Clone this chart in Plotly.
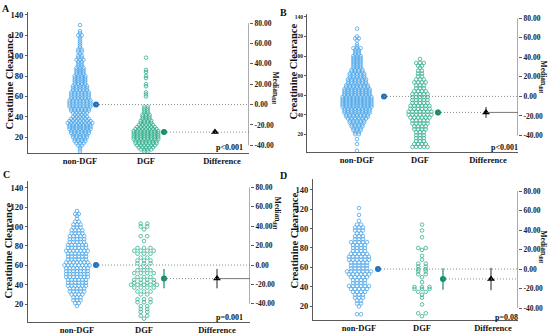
import plotly.graph_objects as go

# ---------------- DATA ----------------
categories = ["non-DGF", "DGF", "Difference"]
panel_letters = ["A", "B", "C", "D"]
p_values = ["p<0.001", "p<0.001", "p=0.001", "p=0.08"]
left_ticks = [20, 40, 60, 80, 100, 120, 140]
right_ticks = [-40, -20, 0, 20, 40, 60, 80]
right_ticktext = [f"{v:.2f}" for v in right_ticks]

# value bins (creatinine clearance) and number of subjects in each bin
A_non_vals = [6, 8, 10, 12, 14, 16, 18, 20, 22, 24,
              26, 28, 30, 32, 34, 36, 38, 40, 42, 44,
              46, 48, 50, 52, 54, 56, 58, 60, 62, 64,
              66, 68, 70, 72, 74, 76, 78, 80, 82, 84,
              86, 88, 90, 92, 94, 96, 98, 100, 102, 104,
              106, 108, 110, 112, 114, 116, 118, 120, 122, 124,
              130]
A_non_counts = [1, 1, 1, 2, 3, 4, 4, 5, 5, 6,
                6, 7, 7, 7, 8, 7, 6, 5, 4, 5,
                6, 6, 7, 7, 7, 7, 6, 6, 6, 6,
                5, 5, 5, 4, 4, 4, 4, 4, 3, 3,
                3, 3, 2, 2, 2, 3, 2, 2, 1, 2,
                2, 1, 1, 1, 1, 1, 1, 2, 1, 1,
                1]
A_dgf_vals = [6, 8, 10, 12, 14, 16, 18, 20, 22, 24,
              26, 28, 30, 32, 34, 36, 38, 40, 42, 44,
              46, 48, 50, 60, 62, 64, 70, 72, 78, 80,
              84, 86, 98]
A_dgf_counts = [2, 4, 5, 6, 7, 7, 8, 8, 8, 8,
                8, 7, 6, 5, 4, 4, 3, 3, 3, 2,
                2, 2, 2, 1, 1, 1, 1, 1, 1, 1,
                1, 1, 1]

B_non_vals = [3, 10, 15, 20, 22, 24, 26, 28, 30, 32,
              34, 36, 38, 40, 42, 44, 46, 48, 50, 52,
              54, 56, 58, 60, 62, 64, 66, 68, 70, 72,
              74, 76, 78, 80, 82, 84, 86, 88, 90, 92,
              94, 96, 98, 100, 102, 104, 106, 108, 110, 112,
              116, 118, 120, 128]
B_non_counts = [1, 1, 1, 2, 2, 3, 3, 4, 4, 5,
                5, 6, 7, 7, 8, 8, 8, 9, 9, 9,
                9, 9, 9, 8, 8, 8, 8, 7, 7, 6,
                6, 6, 5, 5, 5, 4, 4, 3, 3, 3,
                3, 3, 3, 3, 2, 2, 2, 3, 1, 1,
                1, 2, 1, 1]
B_dgf_vals = [7, 10, 13, 16, 19, 22, 25, 28, 31, 34,
              37, 40, 43, 46, 49, 52, 55, 58, 61, 64,
              67, 70, 73, 76, 79, 82, 85, 88, 90, 93,
              97]
B_dgf_counts = [5, 4, 3, 3, 3, 3, 4, 4, 5, 5,
                6, 7, 7, 6, 6, 5, 5, 5, 5, 4,
                3, 3, 4, 3, 2, 2, 2, 1, 2, 3,
                1]

C_non_vals = [0, 18, 21, 24, 27, 30, 33, 36, 39, 42,
              45, 48, 51, 54, 57, 60, 63, 66, 69, 72,
              75, 78, 81, 84, 87, 90, 93, 96, 99, 102,
              105, 108, 111, 113, 116]
C_non_counts = [1, 1, 2, 3, 3, 4, 5, 5, 6, 6,
                6, 7, 7, 7, 7, 8, 7, 6, 6, 6,
                7, 6, 6, 5, 5, 5, 4, 4, 3, 3,
                2, 1, 1, 2, 1]
C_dgf_vals = [0, 5, 8, 12, 15, 18, 22, 25, 30, 33,
              37, 40, 42, 45, 48, 52, 55, 58, 62, 65,
              68, 72, 75, 78, 85, 90, 97, 100, 103]
C_dgf_counts = [1, 1, 2, 2, 2, 2, 3, 3, 2, 3,
                4, 5, 4, 4, 3, 4, 3, 2, 3, 3,
                2, 3, 4, 3, 1, 2, 1, 2, 2]

D_non_vals = [5, 12, 20, 23, 26, 29, 32, 35, 38, 41,
              44, 47, 50, 53, 56, 59, 62, 65, 68, 71,
              74, 77, 80, 83, 86, 89, 92, 95, 98, 101,
              104, 108, 114, 121]
D_non_counts = [1, 2, 1, 2, 2, 3, 3, 4, 5, 6,
                4, 4, 5, 6, 7, 5, 5, 5, 6, 6,
                5, 4, 4, 4, 5, 3, 3, 2, 3, 3,
                2, 1, 1, 1]
D_dgf_vals = [5, 10, 13, 22, 29, 32, 35, 38, 40, 45,
              50, 53, 56, 58, 61, 64, 68, 72, 78, 80,
              91, 98, 104]
D_dgf_counts = [1, 1, 2, 1, 1, 1, 2, 3, 3, 1,
                1, 2, 2, 2, 2, 2, 1, 1, 1, 2,
                1, 1, 1]

# medians, their CI half-widths, median differences and CI half-widths
median_non = [52.0, 58.7, 60.3, 58.4]
median_non_ci = [0.8, 2.0, 1.5, 2.0]
median_dgf = [25.0, 42.3, 46.3, 48.2]
median_dgf_ci = [0.8, 3.0, 9.8, 11.0]
median_diff = [-27.0, -16.4, -14.0, -10.2]
median_diff_ci = [1.5, 5.5, 10.0, 11.5]

# ---------------- STYLE / GEOMETRY ----------------
W, H = 550, 335
FONT = "Liberation Serif"
C_NON = "#4ea7ea"
C_DGF = "#33b08f"
C_NON_MED = "#1a74c9"
C_DGF_MED = "#12906d"
AX = "#5a5a5a"
DOT = dict(color="#8a8a8a", width=1, dash="1px,2px")

geom = [
    dict(left=28, right=249, bottom=152, top=10, yr=(4.4, 142.9),
         cats=(52, 118, 194), off=(16, 18, -7), sp=(3.5, 3.5),
         letter=(6, 7), ytitle=(10, 80), rtitle=(275, 86), pv=(245, 146),
         ytf=8.5, solid=False),
    dict(left=307, right=518, bottom=151, top=11.7, yr=(1.7, 143.4),
         cats=(50, 113, 181), off=(27, 18, -2), sp=(3.6, 3.8),
         letter=(283, 11), ytitle=(294, 70), rtitle=(543, 75), pv=(520, 146),
         ytf=5.5, solid=True),
    dict(left=28, right=250, bottom=322, top=180, yr=(1.5, 147.0),
         cats=(49, 116, 189), off=(19, 20, 0), sp=(3.6, 6.5),
         letter=(6, 174), ytitle=(9, 250), rtitle=(277, 212), pv=(245, 317),
         ytf=8.5, solid=True),
    dict(left=313, right=518, bottom=319.7, top=178, yr=(6.3, 150.9),
         cats=(46, 109, 180), off=(19, 21, -2), sp=(4.0, 7.5),
         letter=(283, 175), ytitle=(295, 240), rtitle=(543, 246), pv=(520, 317),
         ytf=8.5, solid=False),
]

swarms = [
    (A_non_vals, A_non_counts, A_dgf_vals, A_dgf_counts),
    (B_non_vals, B_non_counts, B_dgf_vals, B_dgf_counts),
    (C_non_vals, C_non_counts, C_dgf_vals, C_dgf_counts),
    (D_non_vals, D_non_counts, D_dgf_vals, D_dgf_counts),
]


def swarm(vals, counts, center, spacing):
    xs, ys = [], []
    for v, n in zip(vals, counts):
        for i in range(n):
            xs.append(center + (i - (n - 1) / 2) * spacing)
            ys.append(v)
    return xs, ys


fig = go.Figure()
layout = dict(width=W, height=H, margin=dict(l=0, r=0, t=0, b=0),
              paper_bgcolor="white", plot_bgcolor="white", showlegend=False,
              font=dict(family=FONT, color="#111"))
shapes, annotations = [], []

for k, g in enumerate(geom):
    i = k + 1
    xa = "x" if i == 1 else f"x{i}"
    ya = "y" if i == 1 else f"y{i}"
    yr = f"y{i + 4}"
    aw = g["right"] - g["left"]
    med = median_non[k]

    layout[f"xaxis{i}"] = dict(
        domain=[g["left"] / W, g["right"] / W], range=[0, aw], anchor=ya,
        showline=True, linecolor=AX, linewidth=1, showgrid=False, zeroline=False,
        tickvals=list(g["cats"]), ticktext=categories, ticks="",
        tickfont=dict(family=FONT, size=8.5, weight="bold", color="#111"))
    layout[f"yaxis{i}"] = dict(
        domain=[1 - g["bottom"] / H, 1 - g["top"] / H], range=list(g["yr"]),
        anchor=xa, showline=True, linecolor=AX, linewidth=1, showgrid=False,
        zeroline=False, ticks="outside", ticklen=2, tickcolor=AX,
        tickvals=left_ticks,
        tickfont=dict(family=FONT, size=g["ytf"], weight="bold", color="#222"))
    layout[f"yaxis{i + 4}"] = dict(
        overlaying=ya, side="right", anchor=xa,
        range=[g["yr"][0] - med, g["yr"][1] - med], showline=False,
        showgrid=False, zeroline=False, ticks="outside", ticklen=3,
        tickcolor=AX, tickvals=right_ticks, ticktext=right_ticktext,
        tickfont=dict(family=FONT, size=7.5, weight="bold", color="#222"))

    nv, nc, dv, dc = swarms[k]
    x1, y1 = swarm(nv, nc, g["cats"][0], g["sp"][0])
    x2, y2 = swarm(dv, dc, g["cats"][1], g["sp"][1])
    for xs, ys, col in ((x1, y1, C_NON), (x2, y2, C_DGF)):
        fig.add_trace(go.Scatter(
            x=xs, y=ys, xaxis=xa, yaxis=ya, mode="markers", cliponaxis=False,
            marker=dict(symbol="circle-open", size=3.6, color=col,
                        line=dict(width=0.8, color=col)),
            hoverinfo="skip"))

    xb = g["cats"][0] + g["off"][0]
    xg = g["cats"][1] + g["off"][1]
    xt = g["cats"][2] + g["off"][2]

    # reference lines
    shapes.append(dict(type="line", xref=xa, yref=ya, x0=xb, x1=aw,
                       y0=med, y1=med, line=DOT))
    if g["solid"]:
        shapes.append(dict(type="line", xref=xa, yref=ya, x0=xg, x1=xt,
                           y0=median_dgf[k], y1=median_dgf[k], line=DOT))
        shapes.append(dict(type="line", xref=xa, yref=ya, x0=xt, x1=aw,
                           y0=median_dgf[k], y1=median_dgf[k],
                           line=dict(color="#555", width=0.8)))
    else:
        shapes.append(dict(type="line", xref=xa, yref=ya, x0=xg, x1=aw,
                           y0=median_dgf[k], y1=median_dgf[k], line=DOT))
    # right axis line (only across tick span)
    shapes.append(dict(type="line", xref=xa, yref=yr, x0=aw, x1=aw,
                       y0=right_ticks[0], y1=right_ticks[-1],
                       line=dict(color=AX, width=1)))

    fig.add_trace(go.Scatter(
        x=[xb], y=[med], xaxis=xa, yaxis=ya, mode="markers",
        marker=dict(size=6, color=C_NON_MED),
        error_y=dict(type="data", array=[median_non_ci[k]], color=C_NON_MED,
                     thickness=1.2, width=0)))
    fig.add_trace(go.Scatter(
        x=[xg], y=[median_dgf[k]], xaxis=xa, yaxis=ya, mode="markers",
        marker=dict(size=6, color=C_DGF_MED),
        error_y=dict(type="data", array=[median_dgf_ci[k]], color=C_DGF_MED,
                     thickness=1.2, width=0)))
    fig.add_trace(go.Scatter(
        x=[xt], y=[median_diff[k]], xaxis=xa, yaxis=yr, mode="markers",
        marker=dict(symbol="triangle-up", size=7, color="black"),
        error_y=dict(type="data", array=[median_diff_ci[k]], color="#222",
                     thickness=1, width=0)))

    # texts
    annotations.append(dict(text=panel_letters[k], x=g["letter"][0] / W,
                            y=1 - g["letter"][1] / H, xref="paper", yref="paper",
                            showarrow=False, xanchor="center", yanchor="middle",
                            font=dict(family=FONT, size=10, weight="bold", color="#111")))
    annotations.append(dict(text="Creatinine Clearance", textangle=-90,
                            x=g["ytitle"][0] / W, y=1 - g["ytitle"][1] / H,
                            xref="paper", yref="paper", showarrow=False,
                            xanchor="center", yanchor="middle",
                            font=dict(family=FONT, size=10.5, weight="bold", color="#111")))
    annotations.append(dict(text="Median<sub>diff</sub>", textangle=90,
                            x=g["rtitle"][0] / W, y=1 - g["rtitle"][1] / H,
                            xref="paper", yref="paper", showarrow=False,
                            xanchor="center", yanchor="middle",
                            font=dict(family=FONT, size=7.5, weight="bold", color="#111")))
    annotations.append(dict(text=p_values[k], x=g["pv"][0] / W,
                            y=1 - g["pv"][1] / H, xref="paper", yref="paper",
                            showarrow=False, xanchor="right", yanchor="middle",
                            font=dict(family=FONT, size=8, weight="bold", color="#111")))

layout["shapes"] = shapes
layout["annotations"] = annotations
fig.update_layout(**layout)
fig.write_html("out.html", config={"displayModeBar": False},
               post_script="document.body.style.margin='0';document.body.style.padding='0';")
